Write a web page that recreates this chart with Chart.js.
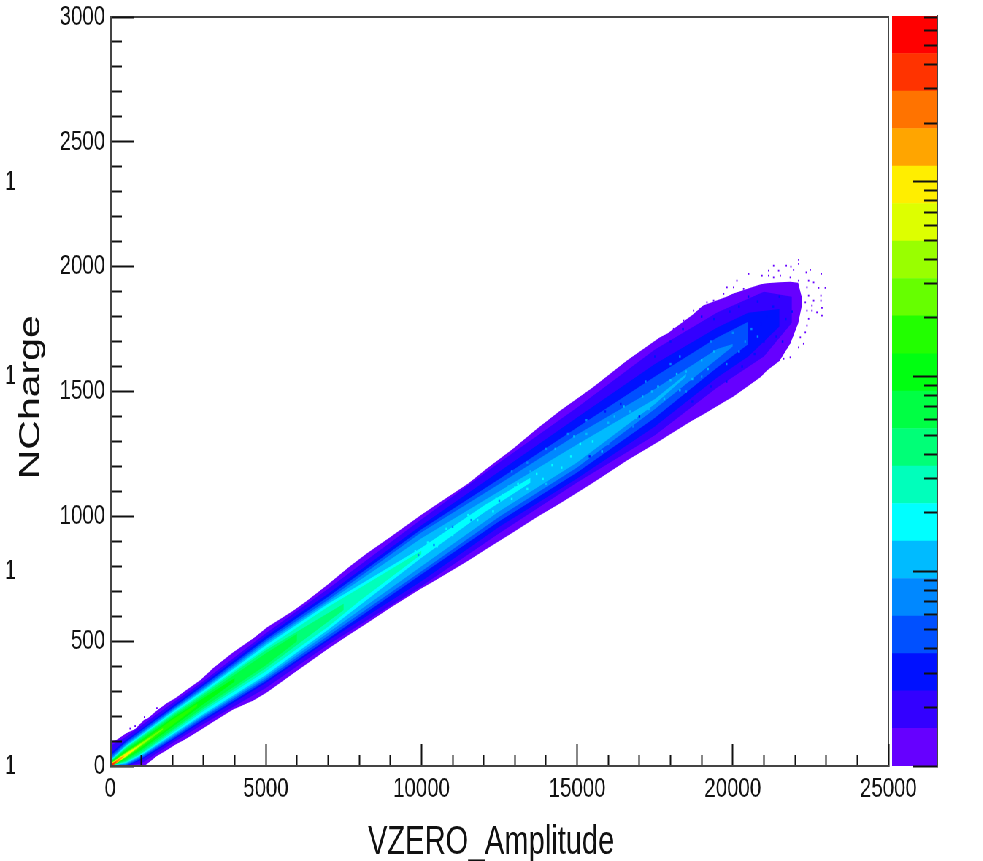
<!DOCTYPE html>
<html>
<head>
<meta charset="utf-8">
<title>NCharge vs VZERO_Amplitude</title>
<script src="https://cdn.jsdelivr.net/npm/chart.js@4/dist/chart.umd.min.js"></script>
<style>
  html, body { margin: 0; padding: 0; background: #fff; overflow: hidden; }
  #page { position: absolute; left: 0; top: 0; width: 1347px; height: 861px; transform: scaleX(0.73); transform-origin: 0 0; }
  #page canvas { position: absolute; left: 0; top: 0; }
</style>
</head>
<body>
<div id="page">
  <canvas id="chart-main" width="1347" height="861"></canvas>
  <canvas id="chart-palette" width="1347" height="861"></canvas>
</div>
<script>
const xLabel = "VZERO_Amplitude  ";
const yLabel = "NCharge ";
const xTicks = [0, 5000, 10000, 15000, 20000, 25000];
const yTicks = [0, 500, 1000, 1500, 2000, 2500, 3000];
const xMinorTicks = [1000, 2000, 3000, 4000, 6000, 7000, 8000, 9000, 11000, 12000, 13000, 14000, 16000, 17000, 18000, 19000, 21000, 22000, 23000, 24000];
const yMinorTicks = [100, 200, 300, 400, 600, 700, 800, 900, 1100, 1200, 1300, 1400, 1600, 1700, 1800, 1900, 2100, 2200, 2300, 2400, 2600, 2700, 2800, 2900];
const paletteTicks = [1, 10, 100, 1000];
const paletteLabels = ["1", "10", "10²", "10³"];
const paletteMinorTicks = [2, 3, 4, 5, 6, 7, 8, 9, 20, 30, 40, 50, 60, 70, 80, 90, 200, 300, 400, 500, 600, 700, 800, 900, 2000, 3000, 4000, 5000, 6000, 7000];
const paletteEdges = [1, 1.56, 2.43, 3.78, 5.89, 9.18, 14.3, 22.3, 34.7, 54.1, 84.3, 131, 205, 319, 497, 774, 1206, 1880, 2929, 4563, 7110];
const paletteColors = ["#6600ff", "#3300ff", "#0011ff", "#0050ff", "#0088ff", "#00bbff", "#00ffff", "#00ffbb", "#00ff77", "#00ff44", "#00ff11", "#22ff00", "#66ff00", "#99ff00", "#ddff00", "#ffee00", "#ffa500", "#ff7300", "#ff3300", "#ff0000"];

// contour of each colour level: x, upper NCharge, lower NCharge
const x01 = [0, 200, 500, 800, 1100, 1200, 1500, 1800, 2100, 2400, 2900, 3300, 3950, 4600, 5040, 5500, 5900, 6300, 7000, 7700, 8250, 9000, 9950, 10400, 11500, 12100, 12950, 13700, 14460, 15500, 16600, 17650, 17900, 18700, 19050, 19800, 20000, 20900, 21100, 21500, 21850, 22100, 22230];
const hi01 = [100, 104, 130, 148, 186, 190, 222, 250, 272, 300, 344, 392, 456, 512, 556, 592, 624, 660, 728, 800, 852, 917, 1002, 1040, 1132, 1192, 1272, 1350, 1424, 1516, 1624, 1716, 1732, 1806, 1844, 1880, 1892, 1930, 1934, 1938, 1940, 1936, 1870];
const lo01 = [0, 0, 0, 0, 0, 10, 40, 62, 86, 106, 144, 176, 226, 262, 295, 336, 372, 408, 470, 528, 572, 634, 708, 740, 822, 870, 936, 996, 1052, 1134, 1224, 1302, 1322, 1384, 1408, 1464, 1478, 1558, 1584, 1622, 1692, 1772, 1850];
const x02 = [0, 500, 1000, 2000, 3000, 5000, 7000, 10000, 12500, 15000, 17500, 19500, 21000, 21900];
const hi02 = [80, 116, 162, 252, 340, 532, 710, 988, 1216, 1436, 1668, 1816, 1900, 1880];
const lo02 = [0, 0, 10, 92, 168, 312, 486, 720, 932, 1136, 1325, 1516, 1640, 1775];
const x03 = [0, 500, 1000, 2000, 3000, 5000, 7000, 10000, 12500, 15000, 17500, 19500, 20500, 21500];
const hi03 = [50, 104, 148, 240, 330, 520, 690, 964, 1180, 1396, 1610, 1756, 1815, 1830];
const lo03 = [0, 0, 24, 102, 180, 332, 502, 740, 958, 1152, 1360, 1556, 1640, 1760];
const x04 = [0, 500, 1000, 2000, 3000, 5000, 7000, 10000, 12500, 15000, 17500, 19500, 20500];
const hi04 = [40, 96, 142, 232, 322, 508, 678, 948, 1150, 1356, 1560, 1716, 1780];
const lo04 = [0, 0, 30, 108, 188, 340, 510, 768, 980, 1176, 1395, 1596, 1690];
const x05 = [0, 500, 1000, 2000, 3000, 5000, 7000, 10000, 12500, 15000, 17500, 19500, 20000];
const hi05 = [32, 90, 134, 226, 314, 500, 666, 936, 1130, 1328, 1510, 1670, 1690];
const lo05 = [0, 4, 36, 114, 196, 348, 522, 780, 998, 1196, 1430, 1630, 1680];
const x06 = [0, 500, 1000, 2000, 3000, 5000, 7000, 10000, 12500, 15000, 17500, 18500];
const hi06 = [26, 84, 130, 222, 308, 492, 658, 912, 1100, 1288, 1470, 1570];
const lo06 = [0, 8, 40, 120, 202, 356, 534, 800, 1020, 1216, 1450, 1560];
const x07 = [0, 500, 1000, 2000, 3000, 5000, 7000, 10000, 12000, 13500];
const hi07 = [22, 80, 124, 216, 302, 484, 650, 874, 1042, 1155];
const lo07 = [0, 12, 44, 126, 208, 364, 546, 834, 1014, 1135];
const x08 = [0, 500, 1000, 2000, 3000, 5000, 7000, 8000, 10000];
const hi08 = [20, 76, 120, 210, 294, 472, 638, 712, 862];
const lo08 = [0, 14, 48, 132, 220, 380, 558, 660, 848];
const x09 = [0, 500, 1000, 2000, 3000, 5000, 7500];
const hi09 = [18, 72, 116, 204, 288, 464, 650];
const lo09 = [0, 18, 52, 140, 228, 392, 625];
const x10 = [0, 500, 1000, 2000, 3000, 5000, 6000];
const hi10 = [16, 68, 110, 198, 280, 452, 530];
const lo10 = [0, 22, 60, 146, 236, 404, 500];
const x11 = [0, 500, 1000, 2000, 3000, 4000];
const hi11 = [14, 62, 104, 192, 272, 352];
const lo11 = [0, 28, 66, 156, 248, 338];
const x12 = [0, 500, 1000, 2000, 2800];
const hi12 = [12, 58, 98, 186, 250];
const lo12 = [0, 30, 74, 164, 240];
const x13 = [0, 500, 1000, 1700];
const hi13 = [10, 54, 94, 152];
const lo13 = [0, 34, 80, 146];
const x14 = [0, 500, 1000, 1300];
const hi14 = [9, 52, 92, 116];
const lo14 = [0, 36, 84, 112];
const x15 = [0, 500, 1000];
const hi15 = [8, 50, 88];
const lo15 = [0, 38, 86];
const x16 = [0, 350, 800];
const hi16 = [7, 38, 70];
const lo16 = [0, 24, 68];
const x17 = [0, 250, 450];
const hi17 = [6, 28, 42];
const lo17 = [0, 14, 40];
const x18 = [0, 150, 300];
const hi18 = [5, 18, 28];
const lo18 = [0, 8, 26];
const x19 = [0, 100, 200];
const hi19 = [4, 12, 18];
const lo19 = [0, 4, 16];
const x20 = [0, 100];
const hi20 = [3, 10];
const lo20 = [0, 8];

// isolated single-count bins outside the contour
const strayX = [22116, 22116, 21312, 21719, 21869, 21152, 21473, 21955, 22490, 22844, 22362, 20509, 20938, 21152, 21312, 21527, 21848, 22116, 22437, 22598, 20134, 19813, 20027, 20349, 22383, 22972, 22758, 22437, 22598, 22833, 22833, 22330, 22544, 22865, 22704, 22865, 22383, 22544, 22437, 22383, 22330, 22276, 22116, 21848, 21634, 22169, 19170, 19385, 18956, 18742, 18421, 18099, 19706, 1500, 1100, 800, 640];
const strayY = [2027, 2011, 2004, 2004, 2000, 1984, 1984, 1987, 1987, 1971, 1977, 1971, 1964, 1964, 1957, 1964, 1957, 1944, 1944, 1937, 1944, 1917, 1917, 1911, 1917, 1915, 1915, 1884, 1864, 1884, 1864, 1857, 1844, 1835, 1817, 1804, 1824, 1824, 1791, 1764, 1737, 1691, 1677, 1637, 1631, 1717, 1857, 1864, 1831, 1824, 1784, 1751, 1891, 232, 196, 160, 150];

// brighter and darker bins scattered over the smooth contours
const speckCyanX = [11200, 11500, 11800, 12100, 12300, 12600, 12900, 13100, 13400, 13700, 13900, 14200, 14500, 11000, 10800, 10500, 15100, 15500, 14800, 9800, 10200, 12400, 13000];
const speckCyanY = [960, 1005, 985, 1045, 1020, 1085, 1070, 1130, 1110, 1170, 1150, 1205, 1195, 925, 950, 880, 1290, 1300, 1240, 860, 895, 1070, 1115];
const speckAzureX = [15300, 15600, 15900, 16200, 16400, 16700, 16900, 17100, 17300, 17600, 17800, 18000, 18300, 18500, 18700, 19000, 19200, 19400, 14300, 14000, 13500, 12800, 12200, 15800, 16500, 14900, 15200, 16000, 17400, 18200];
const speckAzureY = [1330, 1305, 1345, 1400, 1355, 1420, 1395, 1480, 1430, 1520, 1470, 1545, 1505, 1580, 1550, 1625, 1590, 1660, 1270, 1130, 1180, 1120, 1000, 1260, 1440, 1320, 1265, 1375, 1500, 1570];
const speckMidX = [18000, 18500, 19300, 19800, 20000, 20200, 20400, 17200, 16800, 16000, 15300, 14700, 14000, 13400, 12900, 20600, 20800, 19000, 18300, 11000, 11600, 12500, 10400, 9900];
const speckMidY = [1610, 1500, 1700, 1610, 1735, 1660, 1700, 1540, 1360, 1290, 1385, 1330, 1270, 1215, 1180, 1750, 1720, 1560, 1640, 958, 985, 1062, 885, 845];
const speckBlueX = [20800, 21100, 21300, 21500, 21700, 21900, 20500, 20200, 19900, 19400, 19000, 18400, 18000, 17500, 21000, 20700, 20300, 19800, 19300, 18700, 21400, 21600, 20900, 16400, 15400, 14400, 17000, 15900];
const speckBlueY = [1860, 1800, 1840, 1880, 1790, 1820, 1880, 1840, 1820, 1790, 1800, 1750, 1700, 1640, 1700, 1650, 1600, 1540, 1520, 1460, 1720, 1700, 1770, 1450, 1240, 1330, 1400, 1420];

const levelX = [x01, x02, x03, x04, x05, x06, x07, x08, x09, x10, x11, x12, x13, x14, x15, x16, x17, x18, x19, x20];
const levelHi = [hi01, hi02, hi03, hi04, hi05, hi06, hi07, hi08, hi09, hi10, hi11, hi12, hi13, hi14, hi15, hi16, hi17, hi18, hi19, hi20];
const levelLo = [lo01, lo02, lo03, lo04, lo05, lo06, lo07, lo08, lo09, lo10, lo11, lo12, lo13, lo14, lo15, lo16, lo17, lo18, lo19, lo20];

const FONT = "'Liberation Sans', Arial, sans-serif";
const INK = "#111";
const FRAME = "#444";

function setTicks(values) {
  return (axis) => { axis.ticks = values.map((value) => ({ value })); };
}

// big tick paddings must not eat into the chart area
function fitAxis(size) {
  return (axis) => {
    if (axis.isHorizontal()) axis.height = size; else axis.width = size;
    axis.paddingTop = axis.paddingBottom = axis.paddingLeft = axis.paddingRight = 0;
  };
}

function frameAxis(position, min, max) {
  return {
    position,
    type: "linear",
    min,
    max,
    ticks: { display: false },
    grid: { drawOnChartArea: false, drawTicks: false },
    border: { display: true, color: FRAME, width: 2 },
    afterFit: fitAxis(0),
  };
}

function minorTickAxis(position, type, values, min, max, length) {
  return {
    position,
    type,
    min,
    max,
    weight: -1,
    afterBuildTicks: setTicks(values),
    ticks: { display: false },
    grid: { drawOnChartArea: false, drawTicks: true, tickLength: -length, tickWidth: 2, tickColor: INK, z: 1 },
    border: { display: false },
    afterFit: fitAxis(0),
  };
}

function binPoints(xs, ys, color, radius) {
  return {
    type: "scatter",
    data: xs.map((x, k) => ({ x, y: ys[k] })),
    pointStyle: "rect",
    pointRadius: radius,
    borderWidth: 0,
    backgroundColor: color,
    order: -1,
  };
}

// main histogram: inner levels first so that they end up on top
const mainDatasets = [];
for (let i = levelX.length - 1; i >= 0; i--) {
  mainDatasets.push({
    data: levelX[i].map((x, k) => ({ x, y: levelHi[i][k] })),
    borderWidth: 0,
    pointRadius: 0,
    backgroundColor: paletteColors[i],
    fill: "+1",
  });
  mainDatasets.push({
    data: levelX[i].map((x, k) => ({ x, y: levelLo[i][k] })),
    borderWidth: 0,
    pointRadius: 0,
    fill: false,
  });
}
mainDatasets.push(binPoints(strayX, strayY, paletteColors[0], 1.3));
mainDatasets.push(binPoints(speckCyanX, speckCyanY, paletteColors[6], 1.7));
mainDatasets.push(binPoints(speckAzureX, speckAzureY, paletteColors[5], 1.7));
mainDatasets.push(binPoints(speckMidX, speckMidY, paletteColors[4], 1.7));
mainDatasets.push(binPoints(speckBlueX, speckBlueY, paletteColors[2], 1.7));

new Chart(document.getElementById("chart-main"), {
  type: "line",
  data: { datasets: mainDatasets },
  options: {
    responsive: false,
    animation: false,
    layout: { padding: { top: 17, right: 130, bottom: 0, left: 0 } },
    plugins: { legend: { display: false }, tooltip: { enabled: false } },
    scales: {
      x: {
        type: "linear",
        min: 0,
        max: 25000,
        afterBuildTicks: setTicks(xTicks),
        afterFit: fitAxis(95),
        ticks: { autoSkip: false, maxRotation: 0, padding: 28, color: INK, font: { family: FONT, size: 28 }, callback: (value) => String(value) },
        grid: { drawOnChartArea: false, tickLength: -22, tickWidth: 2, tickColor: INK, z: 1 },
        border: { color: FRAME, width: 2, z: 2 },
        title: { display: true, text: xLabel, color: "#111", padding: { top: 0, bottom: -6 }, font: { family: FONT, size: 40 } },
      },
      y: {
        type: "linear",
        min: 0,
        max: 3000,
        afterBuildTicks: setTicks(yTicks),
        afterFit: fitAxis(151),
        ticks: { autoSkip: false, padding: 40, color: INK, font: { family: FONT, size: 28 }, callback: (value) => String(value) },
        grid: { drawOnChartArea: false, tickLength: -33, tickWidth: 2, tickColor: INK, z: 1 },
        border: { color: FRAME, width: 3, z: 2 },
        title: { display: true, text: yLabel, color: "#111", padding: { top: 18, bottom: 0 }, font: { family: FONT, size: 41 } },
      },
      xMinor: minorTickAxis("bottom", "linear", xMinorTicks, 0, 25000, 11),
      yMinor: minorTickAxis("left", "linear", yMinorTicks, 0, 3000, 16),
      xTop: frameAxis("top", 0, 25000),
      yRight: frameAxis("right", 0, 3000),
    },
  },
});

// palette: one floating bar per colour band on the log count axis
new Chart(document.getElementById("chart-palette"), {
  type: "bar",
  data: {
    labels: [""],
    datasets: paletteColors.map((color, i) => ({
      data: [[paletteEdges[i], paletteEdges[i + 1]]],
      backgroundColor: color,
      borderWidth: 0,
      grouped: false,
      barPercentage: 1,
      categoryPercentage: 1,
    })),
  },
  options: {
    responsive: false,
    animation: false,
    layout: { padding: { top: 16, right: 63, bottom: 95, left: 0 } },
    plugins: { legend: { display: false }, tooltip: { enabled: false } },
    scales: {
      x: { display: false },
      y: {
        type: "logarithmic",
        position: "right",
        min: 1,
        max: 7110,
        afterBuildTicks: setTicks(paletteTicks),
        afterFit: fitAxis(0),
        ticks: {
          autoSkip: false,
          padding: 46,
          color: INK,
          font: { family: FONT, size: 28 },
          callback: (value) => paletteLabels[paletteTicks.indexOf(value)],
        },
        grid: { drawOnChartArea: false, tickLength: -33, tickWidth: 2, tickColor: "#111", z: 1 },
        border: { color: FRAME, width: 2, z: 2 },
      },
      yMinor: minorTickAxis("right", "logarithmic", paletteMinorTicks, 1, 7110, 18),
      // the leftover "1" of each palette label, far left of the page
      yEcho: {
        type: "logarithmic",
        position: "left",
        min: 1,
        max: 7110,
        afterBuildTicks: setTicks(paletteTicks),
        afterFit: fitAxis(1222),
        ticks: { autoSkip: false, padding: 1192, color: INK, font: { family: FONT, size: 28 }, callback: () => "1" },
        grid: { display: false },
        border: { display: false },
      },
    },
  },
});
</script>
</body>
</html>
